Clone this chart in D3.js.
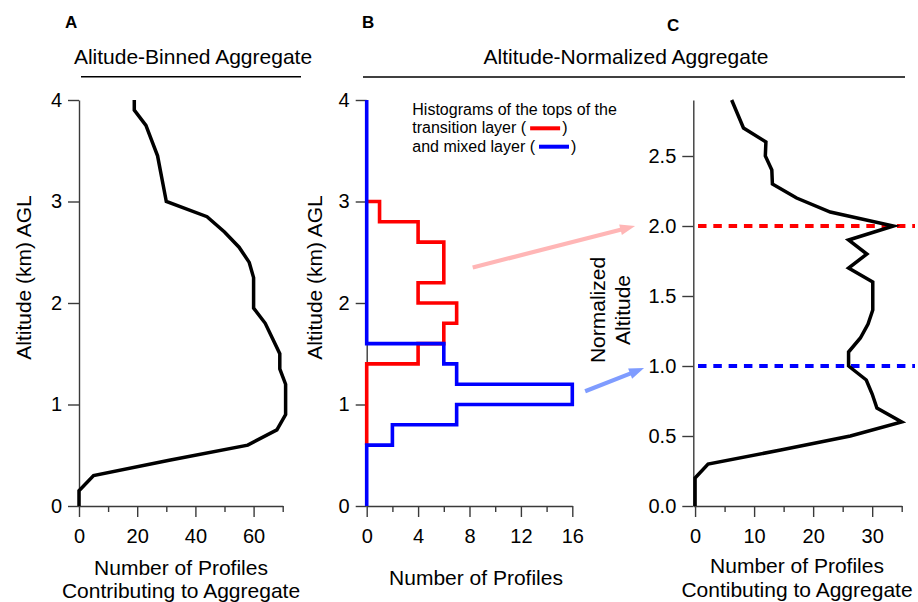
<!DOCTYPE html>
<html>
<head>
<meta charset="utf-8">
<script src="https://cdn.jsdelivr.net/npm/d3@7"></script>
<style>
  body { margin: 0; background: #fff; }
  svg { display: block; font-family: "Liberation Sans", Arial, sans-serif; }
  .axis path, .axis line { stroke: #3a3a3a; stroke-width: 1.4; }
  .axis text { font-size: 20px; fill: #000; font-family: "Liberation Sans", Arial, sans-serif; }
</style>
</head>
<body>
<svg id="chart" width="918" height="602"></svg>
<script>
// ---- Panel A: altitude-binned aggregate (0.15 km bins) ----
const binnedAltitudeKm = [0, 0.15, 0.3, 0.45, 0.6, 0.75, 0.9, 1.05, 1.2, 1.35, 1.5, 1.65, 1.8, 1.95,
  2.1, 2.25, 2.4, 2.55, 2.7, 2.85, 3.0, 3.15, 3.3, 3.45, 3.6, 3.75, 3.9, 4.0];
const binnedProfileCount = [0, 0, 5, 31, 58, 68, 71, 71, 71, 69, 69, 66.5, 64, 60,
  60, 60, 58.5, 55, 50, 44, 30, 29, 28, 27, 25, 23, 19, 19];
const altTicksKm = [0, 1, 2, 3, 4];
const countTicksA = [0, 20, 40, 60];
const countMinorTicksA = [10, 30, 50, 70];

// ---- Panel B: histograms of layer-top altitudes (0.2 km bins) ----
const transitionBinEdges = [0.6, 0.8, 1.0, 1.2, 1.4, 1.6, 1.8, 2.0, 2.2, 2.4, 2.6, 2.8, 3.0];
const transitionTopCounts = [0, 0, 0, 0, 4, 6, 7, 4, 6, 6, 4, 1];
const mixedBinEdges = [0, 0.2, 0.4, 0.6, 0.8, 1.0, 1.2, 1.4, 1.6, 1.8, 2.0, 2.2, 2.4, 2.6, 2.8,
  3.0, 3.2, 3.4, 3.6, 3.8, 4.0];
const mixedTopCounts = [0, 0, 0, 2, 7, 16, 7, 6, 0, 0, 0, 0, 0, 0, 0, 0, 0, 0, 0, 0];
const countTicksB = [0, 4, 8, 12, 16];
const countMinorTicksB = [2, 6, 10, 14];

// ---- Panel C: altitude-normalized aggregate ----
const normalizedAltitude = [0, 0.1, 0.2, 0.3, 0.4, 0.5, 0.6, 0.7, 0.8, 0.9, 1.0, 1.1, 1.2, 1.3, 1.4,
  1.5, 1.6, 1.7, 1.8, 1.9, 2.0, 2.1, 2.2, 2.3, 2.4, 2.5, 2.6, 2.7, 2.8, 2.9];
const normalizedProfileCount = [0, 0, 0, 2.2, 14.5, 26.3, 35, 30.8, 30, 29, 26, 26, 28, 29.3, 30.1,
  30.1, 30.1, 26, 29.1, 26, 33.6, 22.9, 17.2, 13.1, 13, 11.9, 12, 8.2, 7.2, 6.2];
const normAltTicks = [0, 0.5, 1.0, 1.5, 2.0, 2.5];
const countTicksC = [0, 10, 20, 30];
const countMinorTicksC = [5, 15, 25, 35];
// normalized levels of the layer tops: transition layer = 2, mixed layer = 1
const layerTopLevels = [{ level: 2.0, color: "#ff0000" }, { level: 1.0, color: "#0000ff" }];

const svg = d3.select("#chart");

// Scales (shared altitude range for A and B)
const yA = d3.scaleLinear().domain([0, 4]).range([506, 100]);
const xA = d3.scaleLinear().domain([0, 70]).range([79, 282.7]);
const xB = d3.scaleLinear().domain([0, 16]).range([366.7, 572.3]);
const yC = d3.scaleLinear().domain([0, 2.9]).range([506, 100]);
const xC = d3.scaleLinear().domain([-0.3, 35]).range([693.3, 901.7]);

function leftAxis(scale, x0, ticks, fmt) {
  svg.append("g").attr("class", "axis").attr("transform", `translate(${x0},0)`)
    .call(d3.axisLeft(scale).tickValues(ticks).tickFormat(fmt).tickSize(11).tickSizeOuter(0).tickPadding(6));
}
function bottomAxis(scale, y0, ticks, minor, fmt) {
  svg.append("g").attr("class", "axis").attr("transform", `translate(0,${y0})`)
    .call(d3.axisBottom(scale).tickValues(ticks).tickFormat(fmt).tickSize(11).tickSizeOuter(0).tickPadding(12));
  const m = svg.append("g").attr("class", "axis").attr("transform", `translate(0,${y0})`)
    .call(d3.axisBottom(scale).tickValues(minor).tickFormat("").tickSize(6).tickSizeOuter(0));
  m.select(".domain").remove();
}

function label(x, y, txt, size, opts = {}) {
  const t = svg.append("text").attr("x", x).attr("y", y).text(txt)
    .attr("font-size", size).attr("fill", "#000")
    .attr("text-anchor", opts.anchor || "start");
  if (opts.bold) t.attr("font-weight", "bold");
  if (opts.rotate) t.attr("transform", `rotate(-90,${x},${y})`);
  return t;
}

// ---- Panel headers ----
label(65, 28, "A", 17, { bold: true });
label(362, 28, "B", 17, { bold: true });
label(667, 31, "C", 17, { bold: true });

label(193, 64, "Alitude-Binned Aggregate", 21, { anchor: "middle" });
svg.append("line").attr("x1", 81).attr("x2", 301).attr("y1", 76.7).attr("y2", 76.7)
  .attr("stroke", "#000").attr("stroke-width", 1.4);
label(626, 64, "Altitude-Normalized Aggregate", 21, { anchor: "middle" });
svg.append("line").attr("x1", 363).attr("x2", 905).attr("y1", 77).attr("y2", 77)
  .attr("stroke", "#000").attr("stroke-width", 1.4);

// ---- Panel A ----
leftAxis(yA, xA(0), altTicksKm, d3.format("d"));
bottomAxis(xA, yA(0), countTicksA, countMinorTicksA, d3.format("d"));
label(31, 277.5, "Altitude (km) AGL", 21, { anchor: "middle", rotate: true });
label(181, 575, "Number of Profiles", 21, { anchor: "middle" });
label(181, 598, "Contributing to Aggregate", 21, { anchor: "middle" });

const lineA = d3.line().x((d, i) => xA(binnedProfileCount[i])).y(d => yA(d));
svg.append("path").attr("d", lineA(binnedAltitudeKm))
  .attr("fill", "none").attr("stroke", "#000").attr("stroke-width", 3.5);

// ---- Panel B ----
leftAxis(yA.copy(), xB(0), altTicksKm, d3.format("d"));
bottomAxis(xB, yA(0), countTicksB, countMinorTicksB, d3.format("d"));
label(322, 277.5, "Altitude (km) AGL", 21, { anchor: "middle", rotate: true });
label(476, 585, "Number of Profiles", 21, { anchor: "middle" });

// step outline of a histogram drawn sideways (count on x, altitude on y)
function stepPoints(edges, counts) {
  const pts = [[0, edges[0]]];
  counts.forEach((c, i) => { pts.push([c, edges[i]]); pts.push([c, edges[i + 1]]); });
  pts.push([0, edges[edges.length - 1]]);
  return pts;
}
const lineB = d3.line().x(d => xB(d[0])).y(d => yA(d[1]));
svg.append("path").attr("d", lineB(stepPoints(transitionBinEdges, transitionTopCounts)))
  .attr("fill", "none").attr("stroke", "#ff0000").attr("stroke-width", 3.6);
svg.append("path").attr("d", lineB(stepPoints(mixedBinEdges, mixedTopCounts)))
  .attr("fill", "none").attr("stroke", "#0000ff").attr("stroke-width", 3.6);

// legend
const legX = 412.3;
label(legX, 115, "Histograms of the tops of the", 16);
function legendRow(y, txt, color) {
  const t = label(legX, y, txt, 16);
  const x1 = legX + t.node().getComputedTextLength() + 4;
  svg.append("line").attr("x1", x1).attr("x2", x1 + 30).attr("y1", y - 5).attr("y2", y - 5)
    .attr("stroke", color).attr("stroke-width", 4);
  label(x1 + 32, y, ")", 16);
}
legendRow(133.3, "transition layer (", "#ff0000");
legendRow(151.7, "and mixed layer (", "#0000ff");

// ---- Panel C ----
leftAxis(yC, xC(-0.3), normAltTicks, d3.format(".1f"));
bottomAxis(xC, yC(0), countTicksC, countMinorTicksC, d3.format("d"));
label(605, 310, "Normalized", 21, { anchor: "middle", rotate: true });
label(630, 310, "Altitude", 21, { anchor: "middle", rotate: true });
label(797, 573.3, "Number of Profiles", 21, { anchor: "middle" });
label(797, 596.7, "Contibuting to Aggregate", 21, { anchor: "middle" });

svg.selectAll(".lvl").data(layerTopLevels).enter().append("line").attr("class", "lvl")
  .attr("x1", xC(0.5)).attr("x2", 915)
  .attr("y1", d => yC(d.level)).attr("y2", d => yC(d.level))
  .attr("stroke", d => d.color).attr("stroke-width", 4.2).attr("stroke-dasharray", "8.5 6.8");

const lineC = d3.line().x((d, i) => xC(normalizedProfileCount[i])).y(d => yC(d));
svg.append("path").attr("d", lineC(normalizedAltitude))
  .attr("fill", "none").attr("stroke", "#000").attr("stroke-width", 3.5);

// ---- Arrows linking histogram peaks to normalized levels ----
function arrow(x1, y1, x2, y2, color) {
  const ang = Math.atan2(y2 - y1, x2 - x1);
  const len = 15, half = 5.5;
  const bx = x2 - len * Math.cos(ang), by = y2 - len * Math.sin(ang);
  svg.append("line").attr("x1", x1).attr("y1", y1).attr("x2", bx + 2 * Math.cos(ang)).attr("y2", by + 2 * Math.sin(ang))
    .attr("stroke", color).attr("stroke-width", 4.2);
  const px = -Math.sin(ang) * half, py = Math.cos(ang) * half;
  svg.append("polygon")
    .attr("points", `${x2},${y2} ${bx + px},${by + py} ${bx - px},${by - py}`)
    .attr("fill", color);
}
arrow(xB(8.25), yA(2.35), xC(0) - 60, yC(2.0), "#ffb6b6");
arrow(xB(17), yA(1.13), xC(0) - 51, yC(0.985), "#7f9cff");
</script>
</body>
</html>
